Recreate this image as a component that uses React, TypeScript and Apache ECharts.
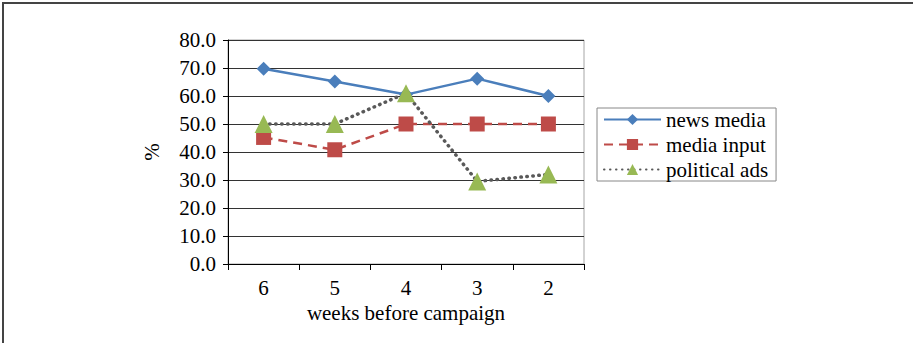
import React, { useEffect, useRef } from "react";
import * as echarts from "echarts";

const categories = ["6", "5", "4", "3", "2"];
const newsMedia = [69.7, 65.2, 60.5, 66.2, 60.0];
const mediaInput = [45.2, 40.8, 50.0, 50.0, 50.0];
const politicalAds = [50.0, 50.0, 61.0, 29.5, 32.0];
const seriesNames = ["news media", "media input", "political ads"];

const FONT = "Liberation Serif";

export default function App() {
  const ref = useRef<HTMLDivElement>(null);
  useEffect(() => {
    if (!ref.current) return;
    const chart = echarts.init(ref.current, undefined, { renderer: "svg" });
    chart.setOption({
      animation: false,
      backgroundColor: "#ffffff",
      textStyle: { fontFamily: FONT, color: "#000" },
      graphic: [
        {
          type: "rect",
          shape: { x: 3, y: 3, width: 960, height: 400 },
          style: { fill: "none", stroke: "#444", lineWidth: 2 },
          silent: true,
        },
      ],
      grid: {
        left: 228,
        right: 329,
        top: 40,
        bottom: 79,
        show: true,
        borderColor: "#a6a6a6",
        borderWidth: 1,
        backgroundColor: "transparent",
      },
      legend: {
        orient: "vertical",
        left: 597,
        top: 108,
        padding: [1, 8, 1, 6],
        itemGap: 4,
        itemWidth: 57,
        itemHeight: 14,
        borderColor: "#888",
        borderWidth: 1,
        textStyle: { fontFamily: FONT, fontSize: 21, color: "#000" },
        data: seriesNames,
      },
      xAxis: {
        type: "category",
        data: categories,
        boundaryGap: true,
        axisLine: { lineStyle: { color: "#000", width: 1 } },
        axisTick: { show: true, length: 6, lineStyle: { color: "#000" } },
        axisLabel: { fontFamily: FONT, fontSize: 21, color: "#000", margin: 13 },
        name: "weeks before campaign",
        nameLocation: "middle",
        nameGap: 37,
        nameTextStyle: { fontFamily: FONT, fontSize: 21, color: "#000" },
      },
      yAxis: {
        type: "value",
        min: 0,
        max: 80,
        interval: 10,
        axisLine: { show: true, lineStyle: { color: "#000", width: 1 } },
        axisTick: { show: true, length: 5, lineStyle: { color: "#000" } },
        axisLabel: {
          fontFamily: FONT,
          fontSize: 21,
          color: "#000",
          margin: 12,
          formatter: (v: number) => v.toFixed(1),
        },
        splitLine: { show: true, lineStyle: { color: "#333333", width: 1 } },
        name: "%",
        nameLocation: "middle",
        nameRotate: 90,
        nameGap: 66,
        nameTextStyle: { fontFamily: FONT, fontSize: 21, color: "#000" },
      },
      series: [
        {
          name: seriesNames[0],
          type: "line",
          data: newsMedia,
          symbol: "diamond",
          symbolSize: 14,
          color: "#4a7ebb",
          lineStyle: { color: "#4a7ebb", width: 2.5, type: "solid" },
          itemStyle: { color: "#4a7ebb" },
        },
        {
          name: seriesNames[1],
          type: "line",
          data: mediaInput,
          symbol: "rect",
          symbolSize: 15,
          color: "#be4b48",
          lineStyle: { color: "#be4b48", width: 2.5, type: [9, 6] },
          itemStyle: { color: "#be4b48" },
        },
        {
          name: seriesNames[2],
          type: "line",
          data: politicalAds,
          symbol: "triangle",
          symbolSize: 18,
          color: "#98b954",
          lineStyle: { color: "#595959", width: 3.5, type: [0.5, 5.5], cap: "round" },
          itemStyle: { color: "#98b954" },
        },
      ],
    });
    return () => chart.dispose();
  }, []);
  return (
    <div
      ref={ref}
      style={{ position: "absolute", left: 0, top: 0, width: 913, height: 343 }}
    />
  );
}
